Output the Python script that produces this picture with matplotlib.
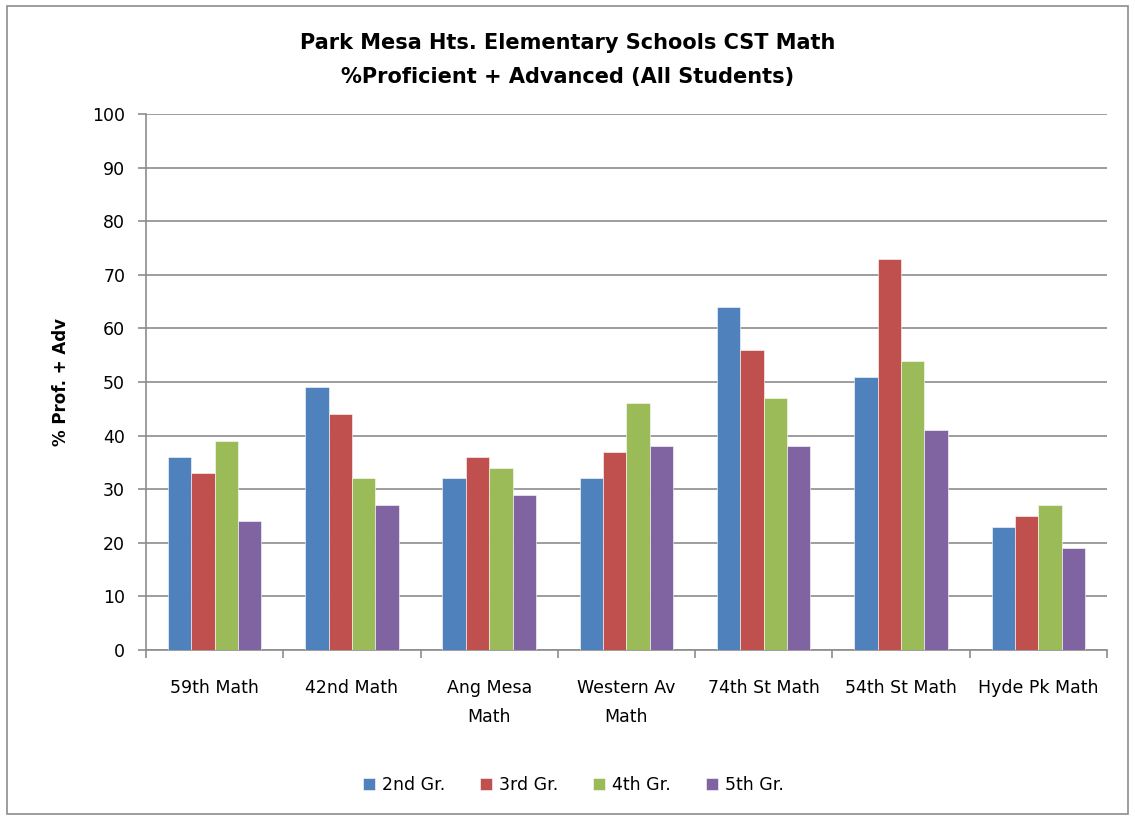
import matplotlib.pyplot as plt
import numpy as np
from matplotlib.patches import Rectangle

plt.rcParams['font.family'] = ['DejaVu Sans']

# data
schools = ["59th Math", "42nd Math", "Ang Mesa\nMath", "Western Av\nMath",
           "74th St Math", "54th St Math", "Hyde Pk Math"]
grades = ["2nd Gr.", "3rd Gr.", "4th Gr.", "5th Gr."]
gr2 = [36, 49, 32, 32, 64, 51, 23]
gr3 = [33, 44, 36, 37, 56, 73, 25]
gr4 = [39, 32, 34, 46, 47, 54, 27]
gr5 = [24, 27, 29, 38, 38, 41, 19]
colors = ["#4F81BD", "#C0504D", "#9BBB59", "#8064A2"]

fig = plt.figure(figsize=(11.35, 8.21), dpi=100)
fig.patches.append(Rectangle((0.006, 0.008), 0.988, 0.985, transform=fig.transFigure,
                             fill=False, edgecolor="#8c8c8c", linewidth=1.2))
ax = fig.add_axes([0.1286, 0.2083, 0.8467, 0.6528])

x = np.arange(len(schools))
w = 0.17
for i, (vals, c) in enumerate(zip([gr2, gr3, gr4, gr5], colors)):
    ax.bar(x + (i - 1.5) * w, vals, w, color=c, label=grades[i],
           edgecolor="white", linewidth=0.4, zorder=3)

ax.set_ylim(0, 100)
ax.set_xlim(-0.5, len(schools) - 0.5)
ax.set_yticks(range(0, 101, 10))
ax.yaxis.grid(True, color="#8c8c8c", linewidth=1.2, zorder=0)
ax.set_xticks(np.arange(len(schools) + 1) - 0.5)
ax.set_xticklabels([])
ax.set_xticks(x, minor=True)
ax.set_xticklabels(schools, minor=True, fontsize=12.5, linespacing=1.8)
ax.tick_params(axis="x", which="minor", length=0, pad=21)
ax.tick_params(axis="x", which="major", length=6, color="#8c8c8c", width=1.2)
ax.tick_params(axis="y", length=6, color="#8c8c8c", width=1.2, labelsize=12.5, pad=9)
for s in ["top", "right"]:
    ax.spines[s].set_visible(False)
for s in ["left", "bottom"]:
    ax.spines[s].set_color("#8c8c8c")
    ax.spines[s].set_linewidth(1.2)

ax.set_ylabel("% Prof. + Adv", fontsize=12, fontweight="bold", labelpad=16)
fig.suptitle("Park Mesa Hts. Elementary Schools CST Math\n%Proficient + Advanced (All Students)",
             y=0.96, fontsize=15, fontweight="bold", linespacing=1.9)

fig.legend(*ax.get_legend_handles_labels(), loc="center", bbox_to_anchor=(0.505, 0.044),
           ncol=4, frameon=False, fontsize=12.5, handlelength=0.7, handleheight=0.7,
           columnspacing=2.0, handletextpad=0.4)

fig.savefig("out.png", dpi=100)
